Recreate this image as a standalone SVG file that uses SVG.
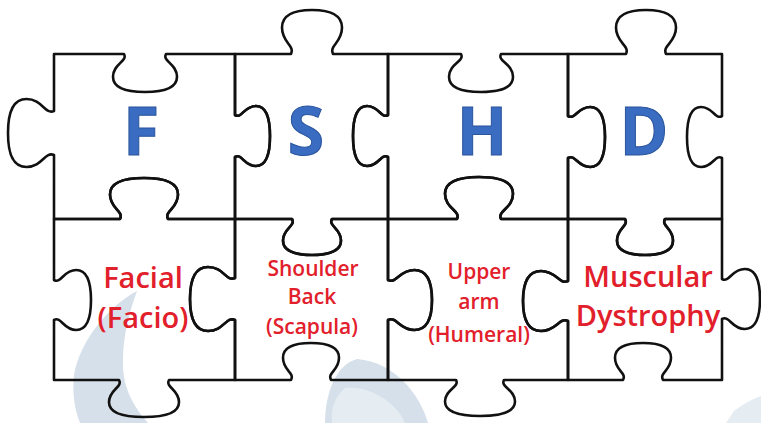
<svg xmlns="http://www.w3.org/2000/svg" width="761" height="423" viewBox="0 0 761 423">
<style>
.piece{fill:none;stroke:#111;stroke-width:2.6;stroke-linejoin:round}
.big{font-family:"Open Sans","Liberation Sans",sans-serif;font-weight:700;font-size:66px;fill:#3a6cc2;stroke:#2a549c;stroke-width:1;text-anchor:middle}
.lbl{font-family:"Open Sans","Liberation Sans",sans-serif;font-weight:600;fill:#e2202c;text-anchor:middle}
.l1{font-size:29px}
.l2{font-size:21px}
.bg{fill:#d6e0ea}
.bg2{fill:#e5ecf2}
</style>
<rect width="761" height="423" fill="#ffffff"/>
<g id="background">
<path class="bg" d="M137 291 C110 305 80 340 74 375 C72 395 75 410 80 423 L148 423 C132 405 122 385 123 360 C123 335 130 310 137 291 Z"/>
<path class="bg" d="M357 359 C335 365 325 395 325 423 L428 423 C420 395 395 362 357 359 Z"/>
<path class="bg2" d="M345 388 C333 398 331 412 332 423 L405 423 C398 405 372 385 345 388 Z"/>
<path class="bg2" d="M726 423 L734 411 Q747 401 761 396 L761 423 Z"/>
</g>
<g id="piece-F">
<path class="piece" d="M54 54 L124 54 C128 61.6 113 63.5 113 76.8 C113 90.1 130.6 92 145 92 C159.4 92 177 90.1 177 76.8 C177 63.5 162 61.6 166 54 L235 54 L235 115 C242 119 243.8 106 256 106 C268.3 106 270 122.5 270 136 C270 149.5 268.3 166 256 166 C243.8 166 242 153 235 157 L235 219 L168 219 C164 210.8 178 208.8 178 194.4 C178 180 159.3 178 144 178 C128.7 178 110 180 110 194.4 C110 208.8 124 210.8 120 219 L54 219 L54 155 C44.8 151 42.5 167 26.4 167 C10.3 167 8 148.3 8 133 C8 117.7 10.3 99 26.4 99 C42.5 99 44.8 115 54 111 Z"/>
<text class="big" x="141" y="155">F</text>
</g>
<g id="piece-S">
<path class="piece" d="M235 54 L291 54 C295 45.2 282 43 282 27.6 C282 12.2 298.5 10 312 10 C325.5 10 342 12.2 342 27.6 C342 43 329 45.2 333 54 L388 54 L388 115 C381 119 379.3 106 367 106 C354.8 106 353 122.5 353 136 C353 149.5 354.8 166 367 166 C379.3 166 381 153 388 157 L388 219 L332 219 C328 226.2 341 228 341 240.6 C341 253.2 325 255 312 255 C299 255 283 253.2 283 240.6 C283 228 296 226.2 292 219 L235 219 L235 157 C242 153 243.8 166 256 166 C268.3 166 270 149.5 270 136 C270 122.5 268.3 106 256 106 C243.8 106 242 119 235 115 Z"/>
<text class="big" x="306" y="155">S</text>
</g>
<g id="piece-H">
<path class="piece" d="M388 54 L461 54 C465 61.6 449 63.5 449 76.8 C449 90.1 466.6 92 481 92 C495.4 92 513 90.1 513 76.8 C513 63.5 497 61.6 501 54 L568 54 L568 116 C575.4 120 577.3 107 590.2 107 C603.2 107 605 123.5 605 137 C605 150.5 603.2 167 590.2 167 C577.3 167 575.4 154 568 158 L568 219 L501 219 C497 210.6 513 208.5 513 193.8 C513 179.1 494.3 177 479 177 C463.7 177 445 179.1 445 193.8 C445 208.5 461 210.6 457 219 L388 219 L388 157 C381 153 379.3 166 367 166 C354.8 166 353 149.5 353 136 C353 122.5 354.8 106 367 106 C379.3 106 381 119 388 115 Z"/>
<text class="big" x="482" y="155">H</text>
</g>
<g id="piece-D">
<path class="piece" d="M568 54 L626 54 C630 45.2 616 43 616 27.6 C616 12.2 632.5 10 646 10 C659.5 10 676 12.2 676 27.6 C676 43 662 45.2 666 54 L722 54 L722 116 C715 120 713.3 107 701 107 C688.8 107 687 123.5 687 137 C687 150.5 688.8 167 701 167 C713.3 167 715 154 722 158 L722 219 L665 219 C661 226.2 673 228 673 240.6 C673 253.2 657.6 255 645 255 C632.4 255 617 253.2 617 240.6 C617 228 629 226.2 625 219 L568 219 L568 158 C575.4 154 577.3 167 590.2 167 C603.2 167 605 150.5 605 137 C605 123.5 603.2 107 590.2 107 C577.3 107 575.4 120 568 116 Z"/>
<text class="big" x="644" y="155">D</text>
</g>
<g id="piece-facial">
<path class="piece" d="M54 219 L120 219 C124 210.8 110 208.8 110 194.4 C110 180 128.7 178 144 178 C159.3 178 178 180 178 194.4 C178 208.8 164 210.8 168 219 L235 219 L235 278 C226 282 223.8 267 208 267 C192.3 267 190 284.6 190 299 C190 313.4 192.3 331 208 331 C223.8 331 226 316 235 320 L235 380 L169 380 C165 387.4 179 389.3 179 402.2 C179 415.2 159.8 417 144 417 C128.3 417 109 415.2 109 402.2 C109 389.3 123 387.4 119 380 L54 380 L54 320 C61.4 316 63.3 330 76.2 330 C89.2 330 91 313.5 91 300 C91 286.5 89.2 270 76.2 270 C63.3 270 61.4 284 54 280 Z"/>
<text class="lbl l1" x="143" y="288">Facial</text>
<text class="lbl l1" x="143" y="328">(Facio)</text>
</g>
<g id="piece-shoulder">
<path class="piece" d="M235 219 L292 219 C296 226.2 283 228 283 240.6 C283 253.2 299 255 312 255 C325 255 341 253.2 341 240.6 C341 228 328 226.2 332 219 L388 219 L388 280 C396.8 284 399 270 414.4 270 C429.8 270 432 286.5 432 300 C432 313.5 429.8 330 414.4 330 C399 330 396.8 316 388 320 L388 380 L331 380 C327 372.6 339 370.8 339 357.8 C339 344.9 323.6 343 311 343 C298.4 343 283 344.9 283 357.8 C283 370.8 295 372.6 291 380 L235 380 L235 320 C226 316 223.8 331 208 331 C192.3 331 190 313.4 190 299 C190 284.6 192.3 267 208 267 C223.8 267 226 282 235 278 Z"/>
<text class="lbl l2" x="313" y="276">Shoulder</text>
<text class="lbl l2" x="312" y="304">Back</text>
<text class="lbl l2" x="312" y="334">(Scapula)</text>
</g>
<g id="piece-upper-arm">
<path class="piece" d="M388 219 L457 219 C461 210.6 445 208.5 445 193.8 C445 179.1 463.7 177 479 177 C494.3 177 513 179.1 513 193.8 C513 208.5 497 210.6 501 219 L568 219 L568 281 C559 285 556.8 271 541 271 C525.3 271 523 287.5 523 301 C523 314.5 525.3 331 541 331 C556.8 331 559 317 568 321 L568 380 L504 380 C500 387.2 515 389 515 401.6 C515 414.2 495.8 416 480 416 C464.3 416 445 414.2 445 401.6 C445 389 460 387.2 456 380 L388 380 L388 320 C396.8 316 399 330 414.4 330 C429.8 330 432 313.5 432 300 C432 286.5 429.8 270 414.4 270 C399 270 396.8 284 388 280 Z"/>
<text class="lbl l2" x="479" y="279">Upper</text>
<text class="lbl l2" x="479" y="309">arm</text>
<text class="lbl l2" x="479" y="342">(Humeral)</text>
</g>
<g id="piece-muscular">
<path class="piece" d="M568 219 L625 219 C629 226.2 617 228 617 240.6 C617 253.2 632.4 255 645 255 C657.6 255 673 253.2 673 240.6 C673 228 661 226.2 665 219 L722 219 L722 279 C729.6 283 731.5 269 744.8 269 C758.1 269 760 285.5 760 299 C760 312.5 758.1 329 744.8 329 C731.5 329 729.6 315 722 319 L722 380 L663 380 C659 372.6 671 370.8 671 357.8 C671 344.9 655.6 343 643 343 C630.4 343 615 344.9 615 357.8 C615 370.8 627 372.6 623 380 L568 380 L568 321 C559 317 556.8 331 541 331 C525.3 331 523 314.5 523 301 C523 287.5 525.3 271 541 271 C556.8 271 559 285 568 281 Z"/>
<text class="lbl l1" x="648" y="287">Muscular</text>
<text class="lbl l1" x="648" y="326">Dystrophy</text>
</g>
</svg>
